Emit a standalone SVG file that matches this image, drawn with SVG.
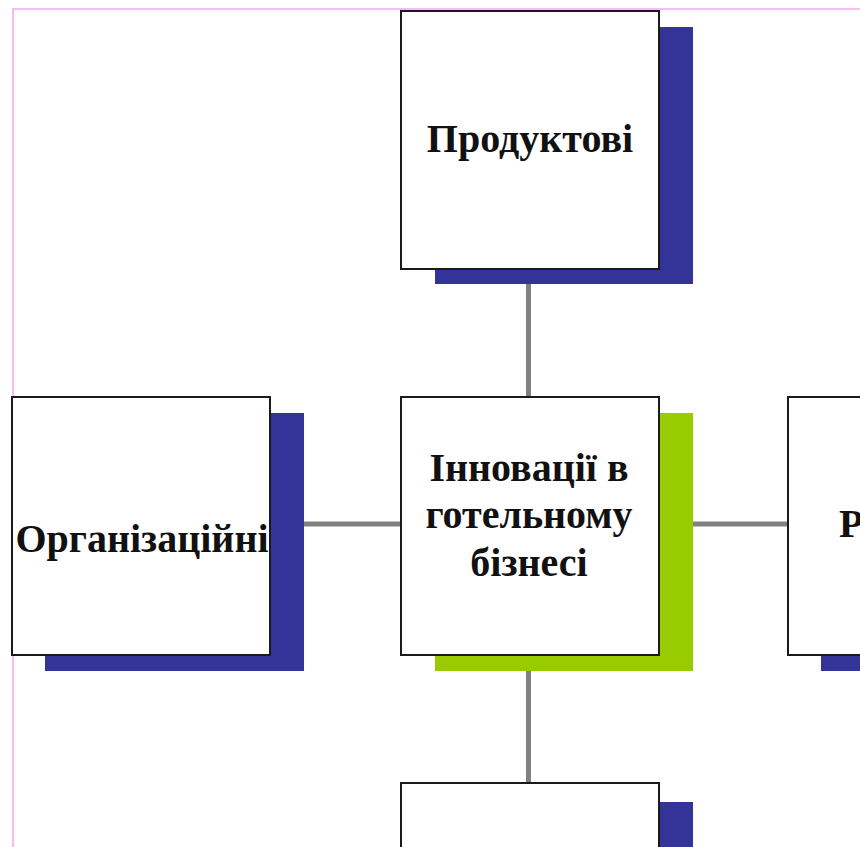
<svg xmlns="http://www.w3.org/2000/svg" width="860" height="847" viewBox="0 0 860 847">
<style>
.box{fill:#ffffff;stroke:#1a1a1a;stroke-width:2}
.sh{fill:#333399}
.shg{fill:#99cc00}
.lbl{font-family:"Liberation Serif","Times New Roman",serif;font-weight:bold;font-size:40px;fill:#111111}
.conn{stroke:#808080;stroke-width:5;fill:none}
</style>
<rect x="0" y="0" width="860" height="847" fill="#ffffff"/>
<path d="M13,847 V9 H860" fill="none" stroke="#f5a8f0" stroke-width="1.5"/>
<g id="connectors">
<line class="conn" x1="528.5" y1="284" x2="528.5" y2="397"/>
<line class="conn" x1="528.5" y1="671" x2="528.5" y2="784"/>
<line class="conn" x1="304" y1="524" x2="401" y2="524"/>
<line class="conn" x1="693" y1="524" x2="788" y2="524"/>
</g>
<g id="node-top">
<rect class="sh" x="435" y="27" width="258" height="257"/>
<rect class="box" x="401" y="11" width="258" height="258"/>
<text class="lbl" x="530" y="152" text-anchor="middle">Продуктові</text>
</g>
<g id="node-left">
<rect class="sh" x="45" y="413" width="259" height="258"/>
<rect class="box" x="12" y="397" width="258" height="258"/>
<text class="lbl" x="142" y="552" text-anchor="middle">Організаційні</text>
</g>
<g id="node-center">
<rect class="shg" x="435" y="413" width="258" height="258"/>
<rect class="box" x="401" y="397" width="258" height="258"/>
<text class="lbl" text-anchor="middle"><tspan x="529" y="481">Інновації в</tspan><tspan x="529" y="528">готельному</tspan><tspan x="529" y="576">бізнесі</tspan></text>
</g>
<g id="node-right">
<rect class="sh" x="821" y="413" width="258" height="258"/>
<rect class="box" x="788" y="397" width="258" height="258"/>
<text class="lbl" x="839" y="537">Р</text>
</g>
<g id="node-bottom">
<rect class="sh" x="435" y="802" width="258" height="258"/>
<rect class="box" x="401" y="783" width="258" height="258"/>
</g>
</svg>
